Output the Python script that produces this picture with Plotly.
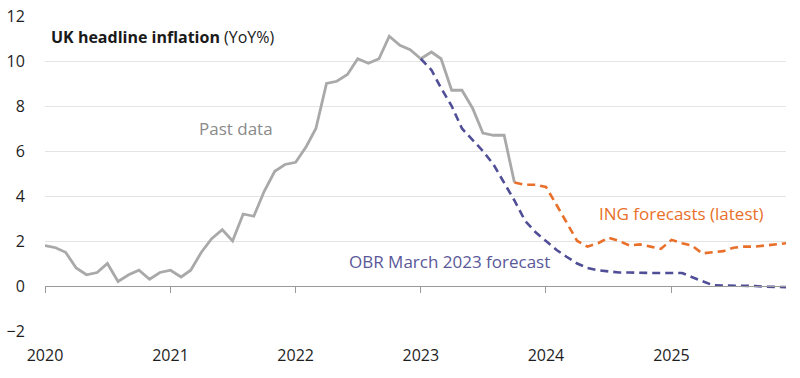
import plotly.graph_objects as go
import pandas as pd

# ---- data ----
past_dates = pd.date_range("2020-01-01", "2023-10-01", freq="MS")
past_values = [
    1.8, 1.7, 1.5, 0.8, 0.5, 0.6, 1.0, 0.2, 0.5, 0.7, 0.3, 0.6,   # 2020
    0.7, 0.4, 0.7, 1.5, 2.1, 2.5, 2.0, 3.2, 3.1, 4.2, 5.1, 5.4,   # 2021
    5.5, 6.2, 7.0, 9.0, 9.1, 9.4, 10.1, 9.9, 10.1, 11.1, 10.7, 10.5,  # 2022
    10.1, 10.4, 10.1, 8.7, 8.7, 7.9, 6.8, 6.7, 6.7, 4.6,          # 2023
]

obr_dates = pd.date_range("2023-01-01", "2025-12-01", freq="MS")
obr_values = [
    10.1, 9.6, 8.8, 8.0, 7.0, 6.5, 6.0, 5.4, 4.6, 3.8, 2.9, 2.4,  # 2023
    2.0, 1.6, 1.3, 1.0, 0.8, 0.7, 0.65, 0.6, 0.6, 0.58, 0.58, 0.58,  # 2024
    0.58, 0.58, 0.4, 0.2, 0.04, 0.02, 0.02, 0.0, 0.0, -0.03, -0.05, -0.05,  # 2025
]

ing_dates = pd.date_range("2023-10-01", "2025-12-01", freq="MS")
ing_values = [
    4.6, 4.5, 4.5,                                                 # 2023 Q4
    4.4, 3.6, 2.8, 2.0, 1.75, 1.9, 2.15, 2.0, 1.8, 1.85, 1.75, 1.65,  # 2024
    2.05, 1.9, 1.8, 1.45, 1.5, 1.55, 1.7, 1.75, 1.75, 1.8, 1.85, 1.9,  # 2025
]

year_ticks = ["2020-01-01", "2021-01-01", "2022-01-01", "2023-01-01", "2024-01-01", "2025-01-01"]
year_labels = ["2020", "2021", "2022", "2023", "2024", "2025"]
y_ticks = [-2, 0, 2, 4, 6, 8, 10, 12]

GRAY = "#a9a9a9"
PURPLE = "#4f4e96"
ORANGE = "#e8702a"
FONT = "Open Sans, sans-serif"

fig = go.Figure()
fig.add_trace(go.Scatter(x=past_dates, y=past_values, mode="lines",
                         line=dict(color=GRAY, width=2.8), hoverinfo="skip"))
fig.add_trace(go.Scatter(x=obr_dates, y=obr_values, mode="lines",
                         line=dict(color=PURPLE, width=2.6, dash="8px,5px"), hoverinfo="skip"))
fig.add_trace(go.Scatter(x=ing_dates, y=ing_values, mode="lines",
                         line=dict(color=ORANGE, width=2.6, dash="8px,5px"), hoverinfo="skip"))
# invisible trace for the zero-line axis with year ticks
fig.add_trace(go.Scatter(x=past_dates, y=past_values, xaxis="x2", mode="lines",
                         line=dict(width=0), opacity=0, hoverinfo="skip"))

fig.update_layout(
    width=800, height=378,
    margin=dict(l=45, r=14, t=16, b=47),
    paper_bgcolor="white", plot_bgcolor="white",
    showlegend=False,
    font=dict(family=FONT, size=16, color="#222222"),
    xaxis=dict(
        type="date", range=["2020-01-01", "2025-12-01"],
        tickvals=year_ticks, ticktext=year_labels,
        showgrid=False, showline=False, zeroline=False, automargin=False,
        ticks="outside", ticklen=10, tickcolor="rgba(0,0,0,0)",
        ticklabeloverflow="allow",
        tickfont=dict(family=FONT, size=16, color="#1e1e1e"),
    ),
    xaxis2=dict(
        type="date", matches="x", overlaying="x", anchor="free",
        position=2 / 14, side="bottom", automargin=False,
        tickvals=year_ticks, showticklabels=False,
        showgrid=False, showline=True, linecolor="#9a9a9a", linewidth=1,
        ticks="outside", ticklen=6, tickcolor="#9a9a9a", tickwidth=1,
        zeroline=False,
    ),
    yaxis=dict(
        range=[-2, 12], tickvals=y_ticks, automargin=False,
        showgrid=True, gridcolor="#e4e4e4", gridwidth=1,
        zeroline=False, showline=False,
        ticks="outside", ticklen=16, tickcolor="rgba(0,0,0,0)",
        ticklabeloverflow="allow",
        tickfont=dict(family=FONT, size=16, color="#1e1e1e"),
    ),
)

fig.add_annotation(xref="paper", yref="paper", x=0.005, y=(11.07 + 2) / 14,
                   xanchor="left", yanchor="middle", showarrow=False,
                   text="<b>UK headline inflation</b> (YoY%)",
                   font=dict(family=FONT, size=16, color="#1a1a1a"))
fig.add_annotation(x="2021-03-20", y=7.0, xanchor="left", yanchor="middle", showarrow=False,
                   text="Past data", font=dict(family=FONT, size=17, color="#8a8a8a"))
fig.add_annotation(x="2024-05-28", y=3.24, xanchor="left", yanchor="middle", showarrow=False,
                   text="ING forecasts (latest)", font=dict(family=FONT, size=17, color=ORANGE))
fig.add_annotation(x="2022-06-01", y=1.07, xanchor="left", yanchor="middle", showarrow=False,
                   text="OBR March 2023 forecast", font=dict(family=FONT, size=17, color="#5a5898"))

fig.write_html("out.html", config={"displayModeBar": False},
               post_script="document.body.style.margin='0';")
